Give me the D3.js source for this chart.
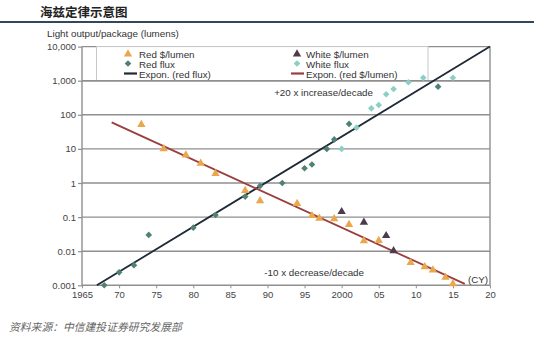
<!DOCTYPE html>
<html><head><meta charset="utf-8">
<script src="https://cdn.jsdelivr.net/npm/d3@7/dist/d3.min.js"></script>
<style>body{margin:0;background:#fff}svg{display:block}</style>
</head><body>
<svg id="c" width="534" height="341"></svg>
<script>
// ---- data ----
const yTickValues = [0.001, 0.01, 0.1, 1, 10, 100, 1000, 10000];
const yTickLabels = ["0.001", "0.01", "0.1", "1", "10", "100", "1,000", "10,000"];
const xTickValues = [1965, 1970, 1975, 1980, 1985, 1990, 1995, 2000, 2005, 2010, 2015, 2020];
const xTickLabels = ["1965", "70", "75", "80", "85", "90", "95", "2000", "05", "10", "15", "20"];

const redCostYears  = [1973, 1976, 1979, 1981, 1983, 1987, 1989, 1994, 1996, 1997, 1999, 2001, 2003, 2005, 2009.3, 2011.2, 2012.3, 2014, 2015];
const redCostValues = [52, 10, 6.6, 3.8, 1.9, 0.6, 0.3, 0.25, 0.11, 0.092, 0.089, 0.06, 0.02, 0.0205, 0.0046, 0.0035, 0.0028, 0.0017, 0.0011];

const whiteCostYears  = [2000, 2003, 2006, 2007];
const whiteCostValues = [0.144, 0.07, 0.0285, 0.0103];

const redFluxYears  = [1968, 1970, 1972, 1974, 1980, 1983, 1987, 1989, 1992, 1995, 1996, 1998, 1999, 2001, 2013];
const redFluxValues = [0.001, 0.0024, 0.0039, 0.03, 0.049, 0.115, 0.4, 0.82, 1.0, 2.7, 3.5, 10, 19, 54, 670];

const whiteFluxYears  = [2000, 2002, 2004, 2005, 2006, 2007, 2009, 2011, 2015];
const whiteFluxValues = [10, 42, 155, 194, 400, 570, 900, 1220, 1220];

const trendFluxYears  = [1967, 2020];
const trendFluxValues = [0.001, 10000];
const trendCostYears  = [1969, 2016.6];
const trendCostValues = [60, 0.0011];

// ---- drawing ----
const svg = d3.select("#c");
const font = "'Liberation Sans', Arial, sans-serif";
const L = 82, R = 490, T = 46.6, B = 285.3;
const x = d3.scaleLinear().domain([1965, 2020]).range([L, R]);
const y = d3.scaleLog().domain([0.001, 10000]).range([B, T]);

// title
svg.append("text").attr("x", 40).attr("y", 17).attr("font-family", "'Noto Sans CJK SC', sans-serif")
  .attr("font-weight", "bold").attr("font-size", 12.5).attr("fill", "#222").text("海兹定律示意图");
svg.append("line").attr("x1", 0).attr("x2", 534).attr("y1", 22).attr("y2", 22)
  .attr("stroke", "#33475b").attr("stroke-width", 2);

// y title
svg.append("text").attr("x", 47).attr("y", 37).attr("font-family", font).attr("font-size", 9.8)
  .attr("fill", "#333").text("Light output/package (lumens)");

// gridlines
svg.append("g").selectAll("line").data(yTickValues).join("line")
  .attr("x1", L).attr("x2", R).attr("y1", d => y(d)).attr("y2", d => y(d))
  .attr("stroke", "#8f8f8f").attr("stroke-width", 1.4);
// frame verticals
svg.append("line").attr("x1", L).attr("x2", L).attr("y1", T).attr("y2", B).attr("stroke", "#8f8f8f").attr("stroke-width", 1.4);
svg.append("line").attr("x1", R).attr("x2", R).attr("y1", T).attr("y2", B).attr("stroke", "#8f8f8f").attr("stroke-width", 1.4);

// y axis
const yAxis = d3.axisLeft(y).tickValues(yTickValues).tickSize(4).tickFormat((d, i) => yTickLabels[i]);
const gy = svg.append("g").attr("transform", `translate(${L},0)`).call(yAxis);
gy.select(".domain").remove();
gy.selectAll("line").attr("stroke", "#8f8f8f").attr("stroke-width", 1.2);
gy.selectAll("text").attr("font-family", font).attr("font-size", 9.5).attr("fill", "#444").attr("x", -6);

// x axis
const xAxis = d3.axisBottom(x).tickValues(xTickValues).tickSize(3).tickFormat((d, i) => xTickLabels[i]);
const gx = svg.append("g").attr("transform", `translate(0,${B})`).call(xAxis);
gx.select(".domain").remove();
gx.selectAll("line").attr("stroke", "#8f8f8f");
gx.selectAll("text").attr("font-family", font).attr("font-size", 9.5).attr("fill", "#444").attr("y", 6);

// legend box
svg.append("rect").attr("x", 96.5).attr("y", T).attr("width", 331.5).attr("height", y(1000) - T)
  .attr("fill", "#fff").attr("stroke", "#c8c8c8").attr("stroke-width", 1);
svg.append("line").attr("x1", L).attr("x2", R).attr("y1", y(1000)).attr("y2", y(1000))
  .attr("stroke", "#8f8f8f").attr("stroke-width", 1.4);

// trend lines
const line = d3.line().x(d => x(d[0])).y(d => y(d[1]));
svg.append("path").datum(trendFluxYears.map((t, i) => [t, trendFluxValues[i]]))
  .attr("d", line).attr("stroke", "#1f2a36").attr("stroke-width", 1.8).attr("fill", "none");
svg.append("path").datum(trendCostYears.map((t, i) => [t, trendCostValues[i]]))
  .attr("d", line).attr("stroke", "#9a3d3d").attr("stroke-width", 1.8).attr("fill", "none");

// markers
const tri = d3.symbol().type(d3.symbolTriangle).size(30);
const dia = d3.symbol().type(d3.symbolSquare).size(22);
function pts(years, vals, sym, color, rot) {
  svg.append("g").selectAll("path").data(years.map((t, i) => [t, vals[i]])).join("path")
    .attr("d", sym).attr("fill", color)
    .attr("transform", d => `translate(${x(d[0])},${y(d[1])})${rot ? " rotate(45)" : ""}`);
}
pts(redCostYears, redCostValues, tri, "#eba74c", false);
pts(whiteCostYears, whiteCostValues, tri, "#4b3b4b", false);
pts(redFluxYears, redFluxValues, dia, "#4f8174", true);
pts(whiteFluxYears, whiteFluxValues, dia, "#8bcfc5", true);

// legend content
const lg = svg.append("g").attr("font-family", font).attr("font-size", 9.8).attr("fill", "#333");
const rows = [55, 64.5, 74.5];
lg.append("path").attr("d", tri).attr("fill", "#eba74c").attr("transform", `translate(128,${rows[0] - 1})`);
lg.append("path").attr("d", dia).attr("fill", "#4f8174").attr("transform", `translate(128,${rows[1] - 1}) rotate(45)`);
lg.append("line").attr("x1", 124).attr("x2", 137).attr("y1", rows[2] - 1).attr("y2", rows[2] - 1).attr("stroke", "#1f2a36").attr("stroke-width", 2.2);
lg.append("text").attr("x", 139).attr("y", rows[0] + 3).text("Red $/lumen");
lg.append("text").attr("x", 139).attr("y", rows[1] + 3).text("Red flux");
lg.append("text").attr("x", 139).attr("y", rows[2] + 3).text("Expon. (red flux)");
lg.append("path").attr("d", tri).attr("fill", "#4b3b4b").attr("transform", `translate(297,${rows[0] - 1})`);
lg.append("path").attr("d", dia).attr("fill", "#8bcfc5").attr("transform", `translate(297,${rows[1] - 1}) rotate(45)`);
lg.append("line").attr("x1", 291).attr("x2", 304).attr("y1", rows[2] - 1).attr("y2", rows[2] - 1).attr("stroke", "#9a3d3d").attr("stroke-width", 2.2);
lg.append("text").attr("x", 306).attr("y", rows[0] + 3).text("White $/lumen");
lg.append("text").attr("x", 306).attr("y", rows[1] + 3).text("White flux");
lg.append("text").attr("x", 306).attr("y", rows[2] + 3).text("Expon. (red $/lumen)");

// annotations
const an = svg.append("g").attr("font-family", font).attr("font-size", 9.8).attr("fill", "#333");
an.append("text").attr("x", 373).attr("y", 96).attr("text-anchor", "end").text("+20 x increase/decade");
an.append("text").attr("x", 364).attr("y", 276).attr("text-anchor", "end").text("-10 x decrease/decade");
an.append("text").attr("x", 468).attr("y", 283).text("(CY)");

// footer
svg.append("text").attr("x", 9).attr("y", 331).attr("font-family", "'Noto Sans CJK SC', sans-serif")
  .attr("font-style", "italic").attr("font-size", 10.8).attr("fill", "#666")
  .text("资料来源：中信建投证券研究发展部");
</script>
</body></html>
